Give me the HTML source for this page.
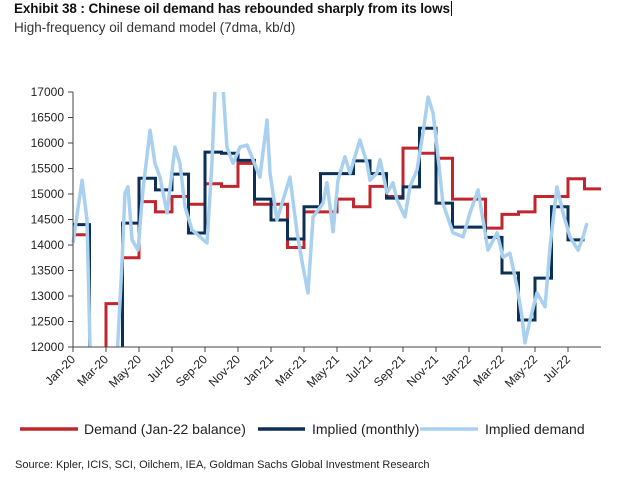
<!DOCTYPE html>
<html><head><meta charset="utf-8"><style>
body{margin:0;background:#fff;width:640px;height:504px;overflow:hidden;font-family:"Liberation Sans",sans-serif}
.t{position:absolute;white-space:nowrap}
</style></head><body>
<div class="t" style="left:14px;top:1px;font-size:13.5px;font-weight:bold;color:#111;letter-spacing:-0.1px">Exhibit 38 : Chinese oil demand has rebounded sharply from its lows<span style="border-left:1px solid #111;margin-left:1px"></span></div>
<div class="t" style="left:14px;top:20px;font-size:13.5px;color:#333">High-frequency oil demand model (7dma, kb/d)</div>
<svg id="c" width="640" height="504" style="position:absolute;left:0;top:0"></svg>
<div class="t" style="left:15px;top:459px;font-size:11px;color:#222">Source: Kpler, ICIS, SCI, Oilchem, IEA, Goldman Sachs Global Investment Research</div>
<script>
const xLabels=["Jan-20","Mar-20","May-20","Jul-20","Sep-20","Nov-20","Jan-21","Mar-21","May-21","Jul-21","Sep-21","Nov-21","Jan-22","Mar-22","May-22","Jul-22"];
const yTicks=[12000,12500,13000,13500,14000,14500,15000,15500,16000,16500,17000];
const demand=[14200,11500,12850,13750,14850,14650,14950,14800,15200,15150,15600,14800,14800,13950,14650,14650,14900,14750,15150,14950,15900,15800,15700,14900,14900,14330,14600,14650,14950,14950,15300,15100];
const impliedMonthly=[14400,11500,11500,14430,15310,15080,15390,14235,15820,15800,15660,14900,14490,14117,14750,15400,15400,15650,15400,14920,15140,16290,14820,14350,14350,14150,13450,12530,13350,14750,14100];
const lightT=[0,0.55,0.85,1.03,1.15,2.67,2.97,3.15,3.33,3.58,3.94,4.24,4.67,4.97,5.27,5.7,6.18,6.48,6.79,7.21,7.7,8.12,8.42,8.61,9.09,9.33,9.7,10.12,10.55,10.91,11.33,11.76,11.94,12.36,13.15,13.58,13.94,14.24,14.55,15.15,15.39,15.58,15.76,16.06,16.48,16.79,17.39,17.82,18.0,18.42,18.61,19.03,19.39,19.64,20.12,20.42,20.85,21.21,21.52,21.82,22.06,22.42,23.03,23.64,24.06,24.55,24.85,25.15,25.7,26.06,26.48,26.91,27.21,27.39,27.7,28.12,28.61,28.91,29.33,29.7,30.12,30.61,30.91,31.15];
const lightV=[14040,15270,14490,12000,11800,11800,13650,15020,15140,14100,13900,15080,16250,15600,15330,14630,15920,15600,14750,14300,14160,14040,15600,17100,17100,15920,15600,15920,15960,15670,15330,16450,15410,14490,15330,14240,13570,13060,14550,14820,15220,14750,14260,15270,15730,15410,16060,15600,15270,15410,15670,15020,15220,14880,14550,15140,15470,16200,16900,16590,15920,14820,14240,14160,14630,15080,14490,13900,14240,13760,13840,13180,12590,12080,12530,13060,12790,13960,15140,14630,14160,13900,14160,14430];
const svg=document.getElementById('c');const NS='http://www.w3.org/2000/svg';
const X=m=>73+16.5*m, Y=v=>347-(v-12000)*0.051;
function mk(t,a,p){const e=document.createElementNS(NS,t);for(const k in a)e.setAttribute(k,a[k]);(p||svg).appendChild(e);return e;}
const defs=mk('defs',{});const cp=mk('clipPath',{id:'pc'},defs);mk('rect',{x:60,y:92,width:560,height:255},cp);
const g=mk('g',{'clip-path':'url(#pc)'});
function step(arr){let d='';arr.forEach((v,i)=>{d+=(i?'L':'M')+X(i)+','+Y(v)+'L'+X(i+1)+','+Y(v);});return d;}
let e=mk('path',{d:step(demand),fill:'none',stroke:'#c0262d','stroke-width':3},g);

e=mk('path',{d:step(impliedMonthly),fill:'none',stroke:'#0b2f55','stroke-width':3},g);

e=mk('path',{d:lightT.map((t,i)=>(i?'L':'M')+X(t)+','+Y(lightV[i])).join(''),fill:'none',stroke:'#a9d0ee','stroke-width':3.5,'stroke-linejoin':'round'},g);

e=mk('line',{x1:73,y1:92,x2:73,y2:347,stroke:'#444','stroke-width':1});

e=mk('line',{x1:73,y1:347,x2:601,y2:347,stroke:'#444','stroke-width':1});

yTicks.forEach(v=>{mk('line',{x1:68,y1:Y(v),x2:73,y2:Y(v),stroke:'#444'});
 const t=mk('text',{x:64,y:Y(v)+4,'text-anchor':'end','font-size':12,fill:'#222'});t.textContent=v;
 });
xLabels.forEach((l,i)=>{const x=X(2*i);mk('line',{x1:x,y1:347,x2:x,y2:352,stroke:'#444'});
 const t=mk('text',{x:x+3,y:360,'text-anchor':'end','font-size':12,fill:'#222',transform:`rotate(-45 ${x+3} 360)`});t.textContent=l;
 });
const leg=[['Demand (Jan-22 balance)','#c0262d',20,78,84],['Implied (monthly)','#0b2f55',258,305,312],['Implied demand','#a9d0ee',420,478,485]];
leg.forEach(l=>{mk('line',{x1:l[2],y1:429,x2:l[3],y2:429,stroke:l[1],'stroke-width':3.5});
 const t=mk('text',{x:l[4],y:434,'font-size':14,fill:'#222'});t.textContent=l[0];
 });
</script>
</body></html>
